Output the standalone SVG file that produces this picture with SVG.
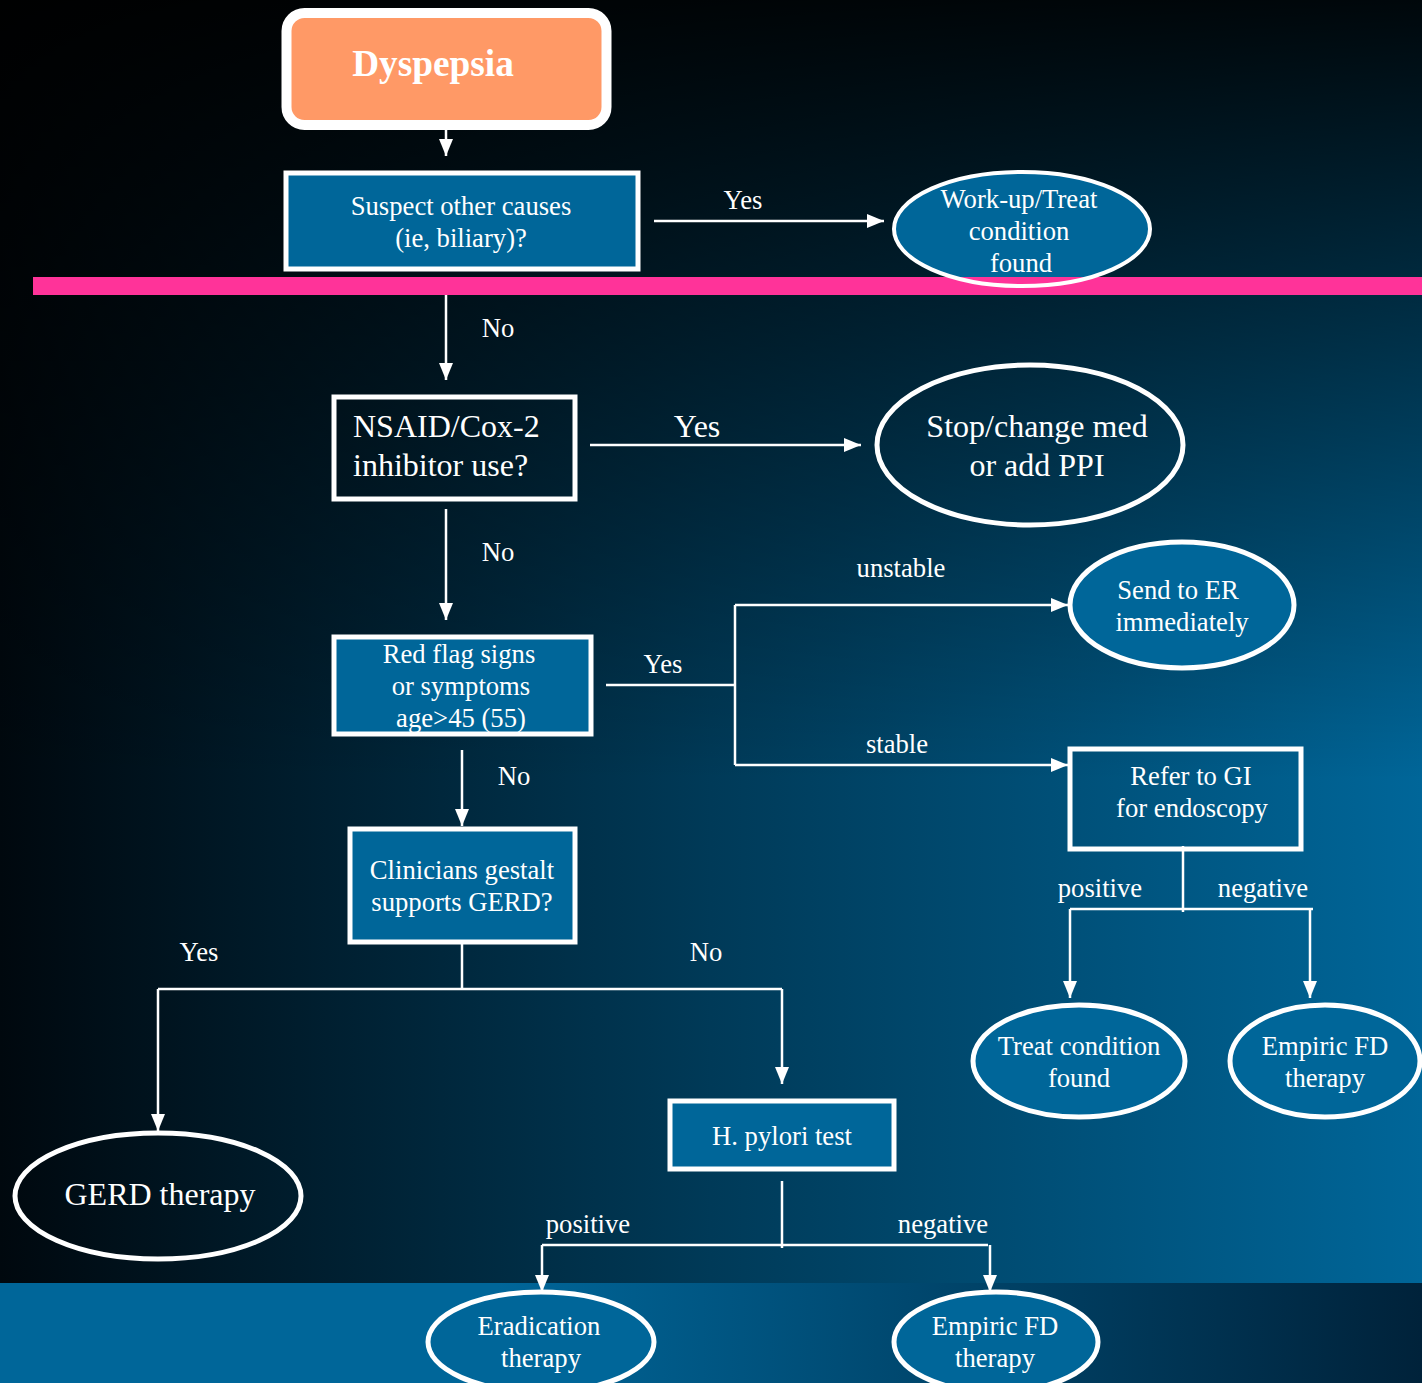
<svg xmlns="http://www.w3.org/2000/svg" width="1422" height="1383" viewBox="0 0 1422 1383" font-family="'Liberation Serif', 'Times New Roman', serif">
<defs>
<linearGradient id="bgH" x1="0" y1="0" x2="1422" y2="0" gradientUnits="userSpaceOnUse">
<stop offset="0" stop-color="#00080e"/>
<stop offset="0.5" stop-color="#003a58"/>
<stop offset="1" stop-color="#006699"/>
</linearGradient>
<linearGradient id="bgV" x1="0" y1="0" x2="0" y2="780" gradientUnits="userSpaceOnUse">
<stop offset="0" stop-color="#000000" stop-opacity="0.93"/>
<stop offset="1" stop-color="#000000" stop-opacity="0"/>
</linearGradient>
<linearGradient id="band" x1="0" y1="0" x2="1422" y2="0" gradientUnits="userSpaceOnUse">
<stop offset="0" stop-color="#006699"/>
<stop offset="0.35" stop-color="#006699"/>
<stop offset="1" stop-color="#00223a"/>
</linearGradient>
<marker id="ah" markerUnits="userSpaceOnUse" markerWidth="18" markerHeight="14" refX="17" refY="7" orient="auto">
<path d="M0,0 L17,7 L0,14 z" fill="#ffffff"/>
</marker>
<style>
text{font-family:'Liberation Serif','Times New Roman',serif;fill:#ffffff;text-anchor:middle}
.t24{font-size:26.67px}
.t30{font-size:32px}
.box{fill:#006699;stroke:#ffffff;stroke-width:5}
.boxe{fill:none;stroke:#ffffff;stroke-width:5}
.ell{fill:#006699;stroke:#ffffff;stroke-width:5}
.elle{fill:none;stroke:#ffffff;stroke-width:5}
.ln{fill:none;stroke:#ffffff;stroke-width:2.5}
.ar{fill:none;stroke:#ffffff;stroke-width:2.5;marker-end:url(#ah)}
</style>
</defs>
<rect x="0" y="0" width="1422" height="1383" fill="url(#bgH)"/>
<rect x="0" y="0" width="1422" height="780" fill="url(#bgV)"/>
<rect x="0" y="1283" width="1422" height="100" fill="url(#band)"/>

<g id="connectors">
<path class="ar" d="M446,130 V156"/>
<path class="ar" d="M654,221 H884"/>
<path class="ar" d="M446,285 V380"/>
<path class="ar" d="M590,445 H861"/>
<path class="ar" d="M446,509 V620"/>
<path class="ln" d="M606,685 H735"/>
<path class="ln" d="M735,605 V765"/>
<path class="ar" d="M735,605 H1068"/>
<path class="ar" d="M735,765 H1068"/>
<path class="ar" d="M462,750 V826"/>
<path class="ln" d="M1183,846 V912"/>
<path class="ln" d="M1070,909 H1313"/>
<path class="ar" d="M1070,909 V998"/>
<path class="ar" d="M1310,909 V998"/>
<path class="ln" d="M462,944 V989"/>
<path class="ln" d="M158,989 H782"/>
<path class="ar" d="M158,989 V1131"/>
<path class="ar" d="M782,989 V1084"/>
<path class="ln" d="M782,1181 V1248"/>
<path class="ln" d="M542,1245 H988"/>
<path class="ar" d="M542,1245 V1292"/>
<path class="ar" d="M990,1245 V1292"/>
<text class="t24" x="743" y="209">Yes</text>
<text class="t24" x="498" y="337">No</text>
<text class="t30" x="697" y="437">Yes</text>
<text class="t24" x="498" y="561">No</text>
<text class="t24" x="663" y="673">Yes</text>
<text class="t24" x="901" y="577">unstable</text>
<text class="t24" x="897" y="753">stable</text>
<text class="t24" x="514" y="785">No</text>
<text class="t24" x="1100" y="897">positive</text>
<text class="t24" x="1263" y="897">negative</text>
<text class="t24" x="199" y="961">Yes</text>
<text class="t24" x="706" y="961">No</text>
<text class="t24" x="588" y="1233">positive</text>
<text class="t24" x="943" y="1233">negative</text>
</g>

<g id="dyspepsia">
<rect x="286.5" y="13" width="320" height="112" rx="18" fill="#ff9966" stroke="#ffffff" stroke-width="10"/>
<text x="433" y="76" style="font-size:37.3px;font-weight:bold">Dyspepsia</text>
</g>

<g id="suspect">
<rect class="box" x="286" y="173" width="352" height="96"/>
<text class="t24" x="461" y="215">Suspect other causes</text>
<text class="t24" x="461" y="247">(ie, biliary)?</text>
</g>

<g id="workup">
<ellipse cx="1022" cy="229" rx="128" ry="57" fill="#006699"/>
<rect id="divider" x="33" y="277" width="1389" height="18" fill="#ff3399"/>
<ellipse cx="1022" cy="229" rx="128" ry="57" fill="none" stroke="#ffffff" stroke-width="4"/>
<text class="t24" x="1019" y="208">Work-up/Treat</text>
<text class="t24" x="1019" y="240">condition</text>
<text class="t24" x="1021" y="272">found</text>
</g>

<g id="nsaid">
<rect class="boxe" x="334" y="397" width="241" height="102"/>
<text class="t30" x="353" y="437" style="text-anchor:start">NSAID/Cox-2</text>
<text class="t30" x="353" y="476" style="text-anchor:start">inhibitor use?</text>
</g>

<g id="stop">
<ellipse class="elle" cx="1030" cy="445" rx="153" ry="80" stroke-width="4"/>
<text class="t30" x="1037" y="437">Stop/change med</text>
<text class="t30" x="1037" y="476">or add PPI</text>
</g>

<g id="redflag">
<rect class="box" x="334" y="637" width="257" height="97"/>
<text class="t24" x="459" y="663">Red flag signs</text>
<text class="t24" x="461" y="695">or symptoms</text>
<text class="t24" x="461" y="727">age&gt;45 (55)</text>
</g>

<g id="er">
<ellipse class="ell" cx="1182" cy="605" rx="112" ry="63" stroke-width="4"/>
<text class="t24" x="1178" y="599">Send to ER</text>
<text class="t24" x="1182" y="631">immediately</text>
</g>

<g id="refer">
<rect class="boxe" x="1070" y="749" width="231" height="100"/>
<text class="t24" x="1191" y="785">Refer to GI</text>
<text class="t24" x="1192" y="817">for endoscopy</text>
</g>

<g id="treat">
<ellipse class="ell" cx="1079" cy="1061" rx="106" ry="56" stroke-width="4"/>
<text class="t24" x="1079" y="1055">Treat condition</text>
<text class="t24" x="1079" y="1087">found</text>
</g>

<g id="empiric1">
<ellipse class="ell" cx="1325" cy="1061" rx="95" ry="56" stroke-width="4"/>
<text class="t24" x="1325" y="1055">Empiric FD</text>
<text class="t24" x="1325" y="1087">therapy</text>
</g>

<g id="clinicians">
<rect class="box" x="350" y="829" width="225" height="113"/>
<text class="t24" x="462" y="879">Clinicians gestalt</text>
<text class="t24" x="462" y="911">supports GERD?</text>
</g>

<g id="gerd">
<ellipse class="elle" cx="158" cy="1196" rx="143" ry="63"/>
<text class="t30" x="160" y="1205">GERD therapy</text>
</g>

<g id="hpylori">
<rect class="box" x="670" y="1101" width="224" height="68"/>
<text class="t24" x="782" y="1145">H. pylori test</text>
</g>

<g id="eradication">
<ellipse class="ell" cx="541" cy="1342" rx="113" ry="50"/>
<text class="t24" x="539" y="1335">Eradication</text>
<text class="t24" x="541" y="1367">therapy</text>
</g>

<g id="empiric2">
<ellipse class="ell" cx="996" cy="1342" rx="102" ry="50"/>
<text class="t24" x="995" y="1335">Empiric FD</text>
<text class="t24" x="995" y="1367">therapy</text>
</g>
</svg>
